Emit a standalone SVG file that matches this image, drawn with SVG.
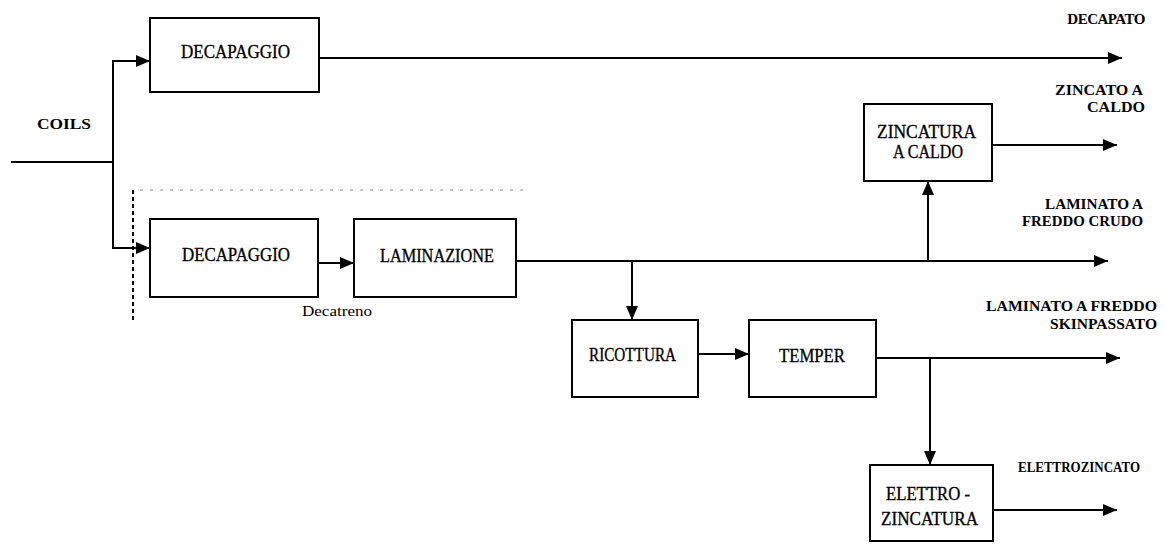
<svg xmlns="http://www.w3.org/2000/svg" width="1165" height="551" viewBox="0 0 1165 551">
<defs>
<style>
.box{fill:#fff;stroke:#000;stroke-width:2}
.ln{fill:none;stroke:#000;stroke-width:2}
text{font-family:'Liberation Serif','DejaVu Serif','Times New Roman',serif;fill:#000}
.t{font-size:18px;stroke:#000;stroke-width:0.3}
.b{font-size:15px;font-weight:bold}
.s{font-size:15px}
</style>
<marker id="ah" markerUnits="userSpaceOnUse" markerWidth="14" markerHeight="12" refX="14" refY="6" orient="auto">
<path d="M0,0 L14,6 L0,12 z" fill="#000"/>
</marker>
</defs>
<rect width="1165" height="551" fill="#fff"/>
<g id="connectors">
<line class="ln" x1="11" y1="162" x2="113" y2="162"/>
<polyline class="ln" points="113,248 113,61 150,61" marker-end="url(#ah)"/>
<polyline class="ln" points="113,162 113,248 150,248" marker-end="url(#ah)"/>
<line class="ln" x1="320" y1="58" x2="1122" y2="58" marker-end="url(#ah)"/>
<line class="ln" x1="318" y1="263" x2="354" y2="263" marker-end="url(#ah)"/>
<line class="ln" x1="516" y1="261" x2="1108" y2="261" marker-end="url(#ah)"/>
<line class="ln" x1="632" y1="261" x2="632" y2="320" marker-end="url(#ah)"/>
<line class="ln" x1="928" y1="261" x2="928" y2="181" marker-end="url(#ah)"/>
<line class="ln" x1="992" y1="145" x2="1117" y2="145" marker-end="url(#ah)"/>
<line class="ln" x1="698" y1="354" x2="749" y2="354" marker-end="url(#ah)"/>
<line class="ln" x1="876" y1="358" x2="1120" y2="358" marker-end="url(#ah)"/>
<line class="ln" x1="930" y1="358" x2="930" y2="465" marker-end="url(#ah)"/>
<line class="ln" x1="993" y1="510" x2="1117" y2="510" marker-end="url(#ah)"/>
<line x1="133" y1="190" x2="133" y2="322" stroke="#000" stroke-width="2" stroke-dasharray="4 3"/>
<line x1="140" y1="190" x2="525" y2="190" stroke="#888" stroke-width="1" stroke-dasharray="3 7"/>
</g>
<g id="decapaggio1">
<rect class="box" x="150" y="18" width="169" height="74"/>
<text class="t" x="181" y="58" textLength="109" lengthAdjust="spacingAndGlyphs">DECAPAGGIO</text>
</g>
<g id="decapaggio2">
<rect class="box" x="150" y="219" width="168" height="78"/>
<text class="t" x="182" y="261" textLength="108" lengthAdjust="spacingAndGlyphs">DECAPAGGIO</text>
</g>
<g id="laminazione">
<rect class="box" x="354" y="219" width="162" height="78"/>
<text class="t" x="380" y="262" textLength="114" lengthAdjust="spacingAndGlyphs">LAMINAZIONE</text>
</g>
<g id="ricottura">
<rect class="box" x="572" y="320" width="126" height="77"/>
<text class="t" x="589" y="361" textLength="87" lengthAdjust="spacingAndGlyphs">RICOTTURA</text>
</g>
<g id="temper">
<rect class="box" x="749" y="320" width="127" height="77"/>
<text class="t" x="779" y="362" textLength="66" lengthAdjust="spacingAndGlyphs">TEMPER</text>
</g>
<g id="zincatura">
<rect class="box" x="864" y="104" width="128" height="77"/>
<text class="t" x="877" y="138" textLength="99" lengthAdjust="spacingAndGlyphs">ZINCATURA</text>
<text class="t" x="893" y="158" textLength="70" lengthAdjust="spacingAndGlyphs">A CALDO</text>
</g>
<g id="elettrozincatura">
<rect class="box" x="870" y="465" width="123" height="76"/>
<text class="t" x="886" y="500" textLength="84" lengthAdjust="spacingAndGlyphs">ELETTRO -</text>
<text class="t" x="881" y="525" textLength="97" lengthAdjust="spacingAndGlyphs">ZINCATURA</text>
</g>
<g id="labels">
<text class="b" x="37" y="129" font-size="16" textLength="54" lengthAdjust="spacingAndGlyphs">COILS</text>
<text class="s" x="302" y="316" textLength="70" lengthAdjust="spacingAndGlyphs">Decatreno</text>
<text class="b" x="1145" y="24" font-size="12" letter-spacing="-0.5" text-anchor="end">DECAPATO</text>
<text class="b" x="1055" y="95" textLength="88" lengthAdjust="spacingAndGlyphs">ZINCATO A</text>
<text class="b" x="1087" y="112" textLength="58" lengthAdjust="spacingAndGlyphs">CALDO</text>
<text class="b" x="1045" y="209" textLength="98" lengthAdjust="spacingAndGlyphs">LAMINATO A</text>
<text class="b" x="1022" y="226" textLength="121" lengthAdjust="spacingAndGlyphs">FREDDO CRUDO</text>
<text class="b" x="986" y="311" textLength="171" lengthAdjust="spacingAndGlyphs">LAMINATO A FREDDO</text>
<text class="b" x="1050" y="329" textLength="107" lengthAdjust="spacingAndGlyphs">SKINPASSATO</text>
<text class="b" x="1018" y="472" textLength="122" lengthAdjust="spacingAndGlyphs">ELETTROZINCATO</text>
</g>
</svg>
